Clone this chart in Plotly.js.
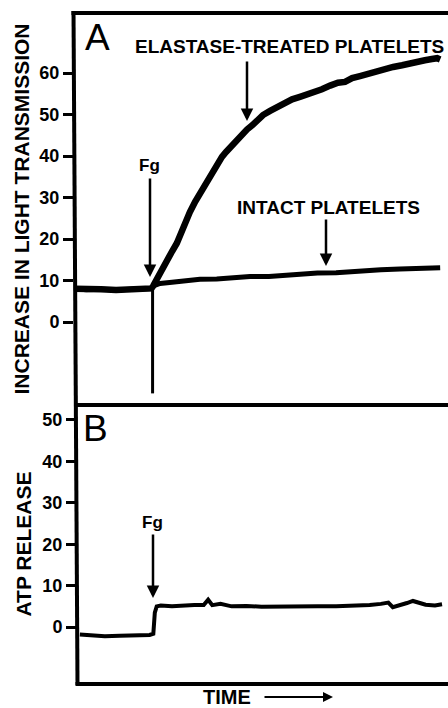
<!DOCTYPE html>
<html>
<head>
<meta charset="utf-8">
<script src="https://cdn.plot.ly/plotly-3.0.1.min.js"></script>
<style>html,body{margin:0;padding:0;background:#fff;}#chart{width:448px;height:708px;}</style>
</head>
<body>
<div id="chart"></div>
<script>
// ---- Panel A: increase in light transmission (arbitrary time units 0-100) ----
const intactT = [0, 3, 7, 11, 15, 18, 20.5, 21.2, 22.8, 26, 30, 33.5, 38, 42, 46.9, 52, 56, 60.3, 65, 70, 73.7, 78, 82, 87.1, 91, 94, 97.9];
const intactV = [8.0, 7.8, 7.9, 7.7, 7.9, 8.0, 8.1, 8.8, 9.3, 9.6, 10.0, 10.3, 10.4, 10.7, 11.0, 11.0, 11.3, 11.6, 11.8, 11.9, 12.2, 12.3, 12.6, 12.8, 13.0, 13.2, 13.1];

const elastaseT = [0, 3, 7, 11, 15, 18, 20.5, 20.9, 21.4, 22.3, 23.3, 24.7, 26.0, 27.3, 28.4, 29.5, 30.8, 32.2, 33.5, 34.9, 36.2, 37.8, 39.4, 40.5, 41.3, 42.4, 43.7, 45.0, 46.1, 47.5, 48.5, 49.6, 50.4, 52.3, 54.4, 56.3, 58.2, 60.3, 62.5, 64.3, 66.2, 68.4, 70.5, 72.4, 74.3, 76.4, 78.6, 81.0, 83.1, 85.3, 87.7, 89.8, 92.0, 93.8, 95.7, 97.1, 97.9];
const elastaseV = [8.0, 7.8, 7.9, 7.7, 7.9, 8.0, 8.1, 8.6, 9.5, 11.0, 12.8, 14.8, 17.0, 19.0, 21.5, 23.8, 26.5, 29.0, 31.0, 32.8, 35.0, 37.4, 39.8, 41.0, 41.8, 43.0, 44.0, 45.3, 46.4, 47.4, 48.3, 49.6, 49.9, 50.9, 52.0, 52.7, 53.7, 54.3, 54.9, 55.7, 56.1, 57.0, 57.7, 57.9, 58.8, 59.3, 59.9, 60.3, 60.8, 61.5, 61.9, 62.4, 62.7, 63.1, 63.4, 63.6, 63.3];

// artifact at fibrinogen (Fg) addition
const fgSpikeT = [20.8, 20.8];
const fgSpikeV = [8.3, -17.2];

// ---- Panel B: ATP release ----
const atpT = [1.3, 4, 8, 12, 16, 20, 21.0, 21.4, 21.9, 23, 26, 29, 32, 34.5, 35.7, 36.8, 39, 42, 46, 50, 55, 60, 65, 70, 75, 79, 82, 84, 85.2, 87, 89, 90.6, 92, 94, 96.5, 98.4];
const atpV = [-1.8, -2.0, -2.2, -2.1, -2.0, -1.9, -1.6, 3.5, 5.0, 5.2, 5.0, 5.2, 5.3, 5.3, 6.6, 5.3, 5.6, 5.0, 5.1, 4.9, 5.0, 5.1, 5.0, 5.0, 5.1, 5.3, 5.6, 5.9, 4.8, 5.2, 5.8, 6.3, 5.9, 5.4, 5.2, 5.5];

const ticksA = [0, 10, 20, 30, 40, 50, 60];
const ticksB = [0, 10, 20, 30, 40, 50];

const FONT = 'Liberation Sans, Arial, Helvetica, sans-serif';
const W = 448, H = 708, ML = 73, MR = 0, MT = 13, MB = 25;
const PW = W - ML - MR, PH = H - MT - MB;
function px(x) { return (x - ML) / PW; }
function py(y) { return (H - MB - y) / PH; }
const splitA = py(405);

const traces = [
  {x: intactT, y: intactV, xaxis: 'x', yaxis: 'y', mode: 'lines', name: 'Intact platelets',
   line: {color: '#000', width: 5}},
  {x: elastaseT, y: elastaseV, xaxis: 'x', yaxis: 'y', mode: 'lines', name: 'Elastase-treated platelets',
   line: {color: '#000', width: 6.5}},
  {x: fgSpikeT, y: fgSpikeV, xaxis: 'x', yaxis: 'y', mode: 'lines', name: 'Fg addition',
   line: {color: '#000', width: 3}},
  {x: atpT, y: atpV, xaxis: 'x', yaxis: 'y2', mode: 'lines', name: 'ATP release',
   line: {color: '#000', width: 4}}
];

function arrow(x1, y1, x2, y2, w) {
  // tail (x1,y1) -> tip (x2,y2), pixel coords
  return {xref: 'paper', yref: 'paper', x: px(x2), y: py(y2), ax: x1 - x2, ay: y1 - y2,
          text: '', showarrow: true, arrowhead: 2, arrowsize: 1, arrowwidth: w || 2.5, arrowcolor: '#000'};
}
function label(text, x, y, size, weight, xanchor) {
  return {xref: 'paper', yref: 'paper', x: px(x), y: py(y), text: text, showarrow: false,
          xanchor: xanchor || 'center', yanchor: 'middle',
          font: {family: FONT, size: size, color: '#000', weight: weight || 'bold'}};
}

const annotations = [
  label('A', 97, 37, 37, 'normal'),
  label('B', 95, 428, 37, 'normal'),
  label('ELASTASE-TREATED PLATELETS', 133, 47, 19, 'bold', 'left'),
  label('INTACT PLATELETS', 235, 208, 19, 'bold', 'left'),
  label('Fg', 149, 166, 17),
  label('Fg', 152, 522, 17),
  label('TIME', 227, 697, 20),
  arrow(247, 60, 247, 121),
  arrow(150, 177, 150, 277),
  arrow(326, 218, 326, 266),
  arrow(153, 533, 153, 598),
  arrow(263, 697, 333, 697, 2)
];

const lineStyle = {color: '#000', width: 4};
const shapes = [
  {type: 'line', xref: 'paper', yref: 'paper', x0: px(71.5), y0: py(13), x1: px(460), y1: py(13), line: lineStyle},
  {type: 'line', xref: 'paper', yref: 'paper', x0: px(73.5), y0: py(11), x1: px(77.5), y1: py(685), line: lineStyle},
  {type: 'line', xref: 'paper', yref: 'paper', x0: px(74), y0: splitA, x1: px(460), y1: splitA, line: lineStyle},
  {type: 'line', xref: 'paper', yref: 'paper', x0: px(75.5), y0: py(684), x1: px(460), y1: py(684), line: lineStyle}
];

const tickFont = {family: FONT, size: 18, color: '#000', weight: 'bold'};
const titleFont = {family: FONT, size: 21, color: '#000', weight: 'bold'};

const layout = {
  width: W, height: H,
  margin: {l: ML, r: MR, t: MT, b: MB},
  paper_bgcolor: '#fff', plot_bgcolor: '#fff',
  showlegend: false,
  xaxis: {domain: [0, 1], range: [-0.536, 100], anchor: 'y2', showline: false, showticklabels: false,
          ticks: '', showgrid: false, zeroline: false},
  yaxis: {domain: [splitA, 1], range: [-20, 74.5], anchor: 'free', position: 0,
          tickvals: ticksA, ticktext: ticksA.map(String), ticks: 'outside', ticklen: 10, tickwidth: 3, tickcolor: '#000',
          tickfont: tickFont, showgrid: false, zeroline: false, showline: false,
          title: {text: 'INCREASE IN LIGHT TRANSMISSION', font: titleFont, standoff: 3}},
  yaxis2: {domain: [0, splitA], range: [-13.5, 53.6], anchor: 'free', position: 0.008,
           tickvals: ticksB, ticktext: ticksB.map(String), ticks: 'outside', ticklen: 10, tickwidth: 3, tickcolor: '#000',
           tickfont: tickFont, showgrid: false, zeroline: false, showline: false,
           title: {text: 'ATP RELEASE', font: titleFont, standoff: 4}},
  annotations: annotations,
  shapes: shapes
};

Plotly.newPlot('chart', traces, layout, {staticPlot: true, displayModeBar: false});
</script>
</body>
</html>
